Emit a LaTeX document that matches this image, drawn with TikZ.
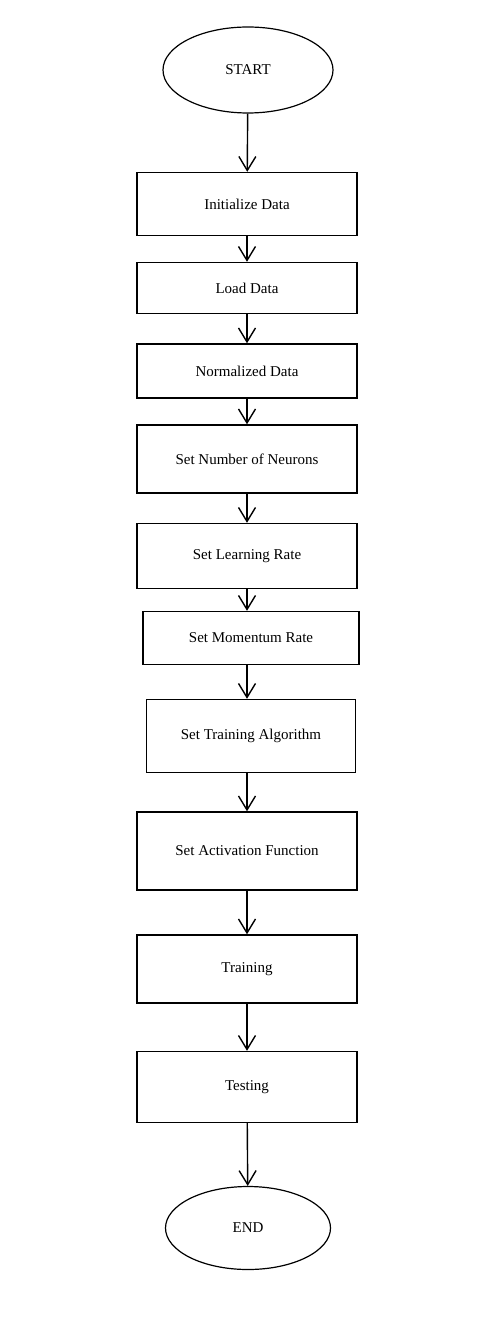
\documentclass[tikz,border=0pt]{standalone}
\usepackage{fontspec}
\setmainfont{Liberation Serif}
\usetikzlibrary{shapes.geometric,arrows.meta}

\tikzset{
  flowbox/.style={draw, line width=0.7pt, rectangle, minimum width=110pt, inner sep=0pt, font=\fontsize{7.5}{9}\selectfont},
  terminal/.style={draw, line width=0.6pt, ellipse, inner sep=0pt, font=\fontsize{7.5}{9}\selectfont},
  flow/.style={-{Straight Barb[length=7pt,width=8.5pt]}, line width=0.7pt}
}

\begin{document}
\begin{tikzpicture}[x=0.5pt,y=-0.5pt]

\useasboundingbox (0,0) rectangle (486,1342);

\node[terminal, minimum width=85pt, minimum height=43pt] (start) at (248,70) {START};

\node[flowbox, minimum height=31.5pt] (init) at (247,204) {Initialize Data};
\node[flowbox, minimum height=25.5pt] (load) at (247,288) {Load Data};
\node[flowbox, minimum height=27pt] (norm) at (247,371) {Normalized Data};
\node[flowbox, minimum height=34pt] (neur) at (247,459) {Set Number of Neurons};
\node[flowbox, minimum height=32.5pt] (lrate) at (247,556) {Set Learning Rate};
\node[flowbox, minimum width=108pt, minimum height=26.5pt] (mom) at (251,638) {Set Momentum Rate};
\node[flowbox, minimum width=104.5pt, minimum height=36.5pt] (alg) at (251,736) {Set Training Algorithm};
\node[flowbox, minimum height=39pt] (act) at (247,851) {Set Activation Function};
\node[flowbox, minimum height=34pt] (train) at (247,969) {Training};
\node[flowbox, minimum height=35.5pt] (test) at (247,1087) {Testing};

\node[terminal, minimum width=82.5pt, minimum height=41.5pt] (end) at (248,1228) {END};

% arrows
\draw[flow] (start) -- (init);
\draw[flow] (init) -- (load);
\draw[flow] (load) -- (norm);
\draw[flow] (norm) -- (neur);
\draw[flow] (neur) -- (lrate);
\draw[flow] (lrate.south) -- (lrate.south |- mom.north);
\draw[flow] (mom.south -| lrate.south) -- (lrate.south |- alg.north);
\draw[flow] (alg.south -| act.north) -- (act.north);
\draw[flow] (act) -- (train);
\draw[flow] (train) -- (test);
\draw[flow] (test) -- (end);

\end{tikzpicture}
\end{document}
